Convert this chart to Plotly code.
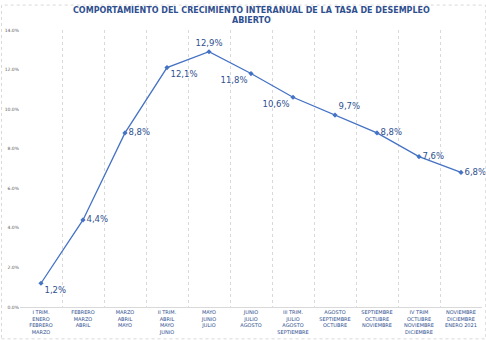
import plotly.graph_objects as go

categories = [
    "I TRIM.<br>ENERO<br>FEBRERO<br>MARZO",
    "FEBRERO<br>MARZO<br>ABRIL",
    "MARZO<br>ABRIL<br>MAYO",
    "II TRIM.<br>ABRIL<br>MAYO<br>JUNIO",
    "MAYO<br>JUNIO<br>JULIO",
    "JUNIO<br>JULIO<br>AGOSTO",
    "III TRIM.<br>JULIO<br>AGOSTO<br>SEPTIEMBRE",
    "AGOSTO<br>SEPTIEMBRE<br>OCTUBRE",
    "SEPTIEMBRE<br>OCTUBRE<br>NOVIEMBRE",
    "IV TRIM<br>OCTUBRE<br>NOVIEMBRE<br>DICIEMBRE",
    "NOVIEMBRE<br>DICIEMBRE<br>ENERO 2021",
]
values = [1.2, 4.4, 8.8, 12.1, 12.9, 11.8, 10.6, 9.7, 8.8, 7.6, 6.8]
label_positions = ["bottom right", "middle right", "middle right", "bottom right",
                   "top center", "bottom left", "bottom left", "top right",
                   "middle right", "middle right", "middle right"]
y_ticks = [0, 2, 4, 6, 8, 10, 12, 14]
y_tick_text = [f"{t:.1f}%" for t in y_ticks]

labels = [f"{v:.1f}%".replace(".", ",") for v in values]

FONT = "DejaVu Sans, Verdana, sans-serif"
BLUE = "#2F4F8F"

fig = go.Figure()
fig.add_trace(go.Scatter(
    x=categories, y=values, mode="lines+markers+text",
    line=dict(color="#4472C4", width=1.3),
    marker=dict(symbol="diamond", size=4, color="#4472C4"),
    text=labels, textposition=label_positions,
    textfont=dict(family=FONT, size=8.5, color=BLUE),
    cliponaxis=False, showlegend=False,
))

fig.update_layout(
    width=486, height=340,
    margin=dict(l=20, r=4, t=30, b=33),
    paper_bgcolor="white", plot_bgcolor="white",
    xaxis=dict(
        type="category", tickson="boundaries", showgrid=True,
        gridcolor="#D9D9D9", griddash="dot", gridwidth=1,
        showline=True, linecolor="#D9D9D9",
        ticks="", tickfont=dict(family=FONT, size=5, color=BLUE),
        range=[-0.5, 10.5],
    ),
    yaxis=dict(
        range=[0, 14], tickvals=y_ticks, ticktext=y_tick_text,
        showgrid=False, zeroline=False, showline=False,
        tickfont=dict(family=FONT, size=4.5, color="#595959"),
        ticks="",
    ),
)
fig.add_annotation(
    text="<b>COMPORTAMIENTO DEL CRECIMIENTO INTERANUAL DE LA TASA DE DESEMPLEO<br>ABIERTO</b>",
    xref="paper", yref="paper", x=0.5, y=1.0, xanchor="center", yanchor="bottom",
    yshift=3, showarrow=False, align="center",
    font=dict(family=FONT, size=8, color=BLUE),
)
fig.add_shape(type="rect", xref="paper", yref="paper", x0=-0.04, x1=1.008, y0=-0.115, y1=1.09,
              line=dict(color="#D9D9D9", width=1, dash="dot"))

fig.write_html("out.html")
